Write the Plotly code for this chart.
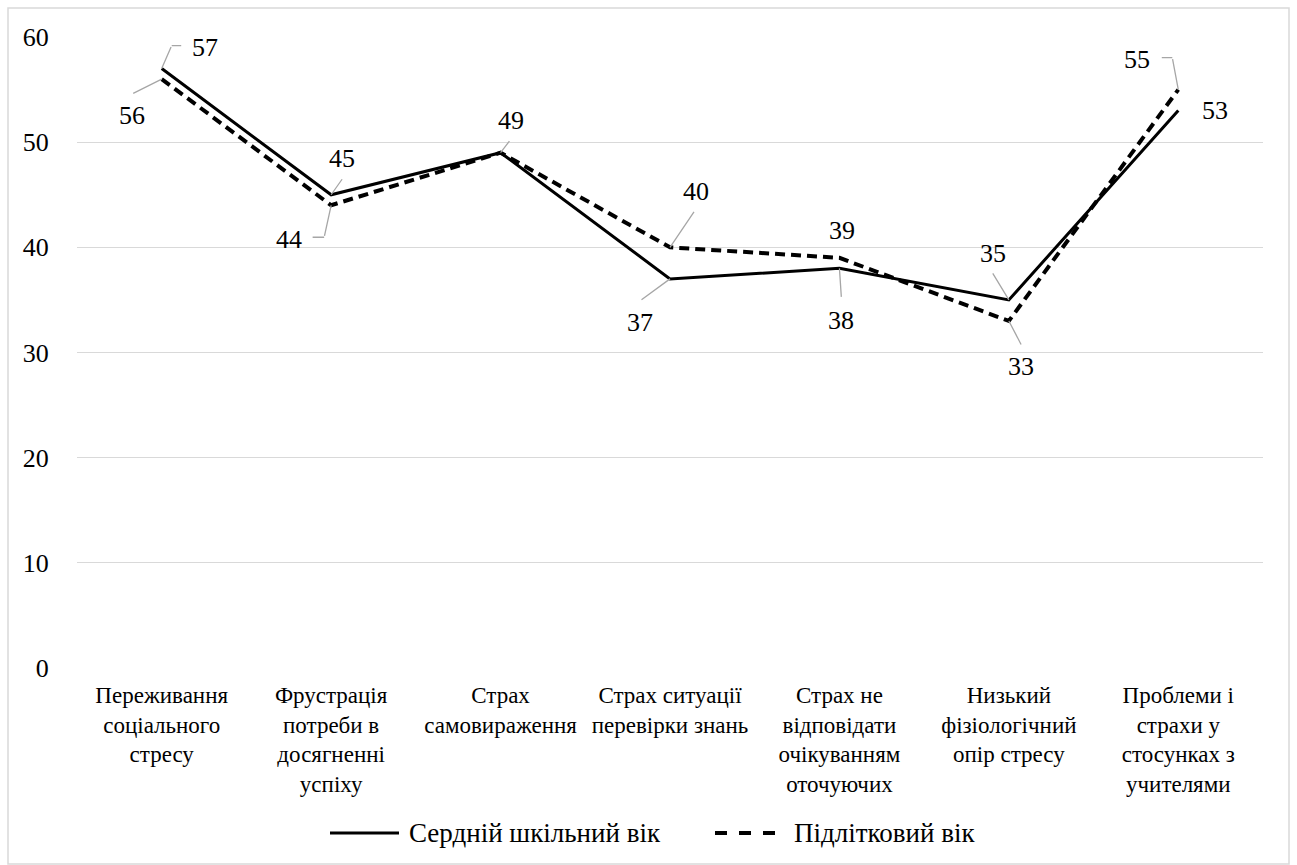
import plotly.graph_objects as go

# ---- data -------------------------------------------------------------
categories = [
    "Переживання соціального стресу",
    "Фрустрація потреби в досягненні успіху",
    "Страх самовираження",
    "Страх ситуації перевірки знань",
    "Страх не відповідати очікуванням оточуючих",
    "Низький фізіологічний опір стресу",
    "Проблеми і страхи у стосунках з учителями",
]
tick_labels = [
    "Переживання<br>соціального<br>стресу",
    "Фрустрація<br>потреби в<br>досягненні<br>успіху",
    "Страх<br>самовираження",
    "Страх ситуації<br>перевірки знань",
    "Страх не<br>відповідати<br>очікуванням<br>оточуючих",
    "Низький<br>фізіологічний<br>опір стресу",
    "Проблеми і<br>страхи у<br>стосунках з<br>учителями",
]
series_names = ["Сердній шкільний вік", "Підлітковий вік"]
middle_school = [57, 45, 49, 37, 38, 35, 53]
adolescent = [56, 44, 49, 40, 39, 33, 55]
y_ticks = [0, 10, 20, 30, 40, 50, 60]

# ---- geometry / style -------------------------------------------------
W, H = 1297, 865
ML, MR, MT, MB = 77, 34, 37, 197
PW, PH = W - ML - MR, H - MT - MB
FONT = "Liberation Serif"
GRID = "#d9d9d9"
LEADER = "#a6a6a6"
DASH = "10px,6px"


def px_x(px):
    return (px - ML) / PW


def px_y(py):
    return (H - MB - py) / PH


xs = list(range(len(categories)))

fig = go.Figure()
fig.add_trace(go.Scatter(x=xs, y=middle_school, mode="lines", name=series_names[0],
                         line=dict(color="black", width=3), showlegend=False))
fig.add_trace(go.Scatter(x=xs, y=adolescent, mode="lines", name=series_names[1],
                         line=dict(color="black", width=4, dash=DASH), showlegend=False))

# data labels: (series, index, label offset dx/dy in px (screen, y down),
#               leader polyline in px relative to the point (y up))
label_specs = [
    (middle_school, 0, 43, -21, [(0, 0), (10, 23), (21, 23)]),
    (adolescent, 0, -30, 36, [(0, 0), (-30, -15)]),
    (middle_school, 1, 11, -36, [(0, 0), (12, 17)]),
    (adolescent, 1, -42, 34, [(0, 0), (-7, -32), (-20, -32)]),
    (adolescent, 2, 10, -32, [(0, 0), (10, 13)]),
    (adolescent, 3, 26, -56, [(0, 0), (25, 37)]),
    (middle_school, 3, -30, 44, [(0, 0), (-30, -22)]),
    (adolescent, 4, 3, -27, None),
    (middle_school, 4, 2, 52, [(0, 0), (2, -30)]),
    (middle_school, 5, -16, -46, [(0, 0), (-17, 28)]),
    (adolescent, 5, 12, 46, [(0, 0), (13, -25)]),
    (adolescent, 6, -41, -30, [(0, 0), (-6, 32), (-18, 32)]),
    (middle_school, 6, 37, 0, None),
]

annotations = []
shapes = []
for ser, i, dx, dy, leader in label_specs:
    v = ser[i]
    if leader:
        # each leader segment is an arrow-only annotation anchored on the point
        for (x0, y0), (x1, y1) in zip(leader[:-1], leader[1:]):
            annotations.append(dict(x=xs[i], y=v, xref="x", yref="y", text="",
                                    showarrow=True, arrowhead=0, arrowwidth=1.3,
                                    arrowcolor=LEADER, standoff=0, startstandoff=0,
                                    xshift=x0, yshift=y0, ax=x1 - x0, ay=-(y1 - y0),
                                    font=dict(size=1)))
    annotations.append(dict(x=xs[i], y=v, xref="x", yref="y", text=str(v),
                            showarrow=False, xshift=dx, yshift=-dy,
                            font=dict(family=FONT, size=26, color="black")))

# outer chart border
shapes.append(dict(type="rect", xref="paper", yref="paper",
                   x0=px_x(8), x1=px_x(1289), y0=px_y(864), y1=px_y(8),
                   line=dict(color=GRID, width=1.5), layer="below"))

# legend drawn below the axis labels
legend_y = px_y(833)
legend_items = [
    (series_names[0], dict(color="black", width=3), 330, 399, 407),
    (series_names[1], dict(color="black", width=4, dash="dash"), 715, 784, 792),
]
for name, ln, x0, x1, tx in legend_items:
    shapes.append(dict(type="line", xref="paper", yref="paper",
                       x0=px_x(x0), x1=px_x(x1), y0=legend_y, y1=legend_y, line=ln))
    annotations.append(dict(x=px_x(tx), y=legend_y, xref="paper", yref="paper",
                            text=name, showarrow=False, xanchor="left", yanchor="middle",
                            font=dict(family=FONT, size=27, color="black")))

fig.update_layout(
    width=W, height=H,
    margin=dict(l=ML, r=MR, t=MT, b=MB),
    plot_bgcolor="white",
    showlegend=False,
    annotations=annotations,
    shapes=shapes,
    xaxis=dict(range=[-0.5, len(categories) - 0.5], tickvals=xs, ticktext=tick_labels,
               showgrid=False, zeroline=False, showline=False,
               ticks="outside", ticklen=6, tickcolor="rgba(0,0,0,0)",
               tickfont=dict(family=FONT, size=23, color="black")),
    yaxis=dict(range=[0, 60], tickvals=y_ticks, showgrid=True, gridcolor=GRID,
               gridwidth=1, zeroline=False, showline=False,
               ticks="outside", ticklen=22, tickcolor="rgba(0,0,0,0)",
               tickfont=dict(family=FONT, size=26, color="black")),
)

fig.write_html("out.html")
